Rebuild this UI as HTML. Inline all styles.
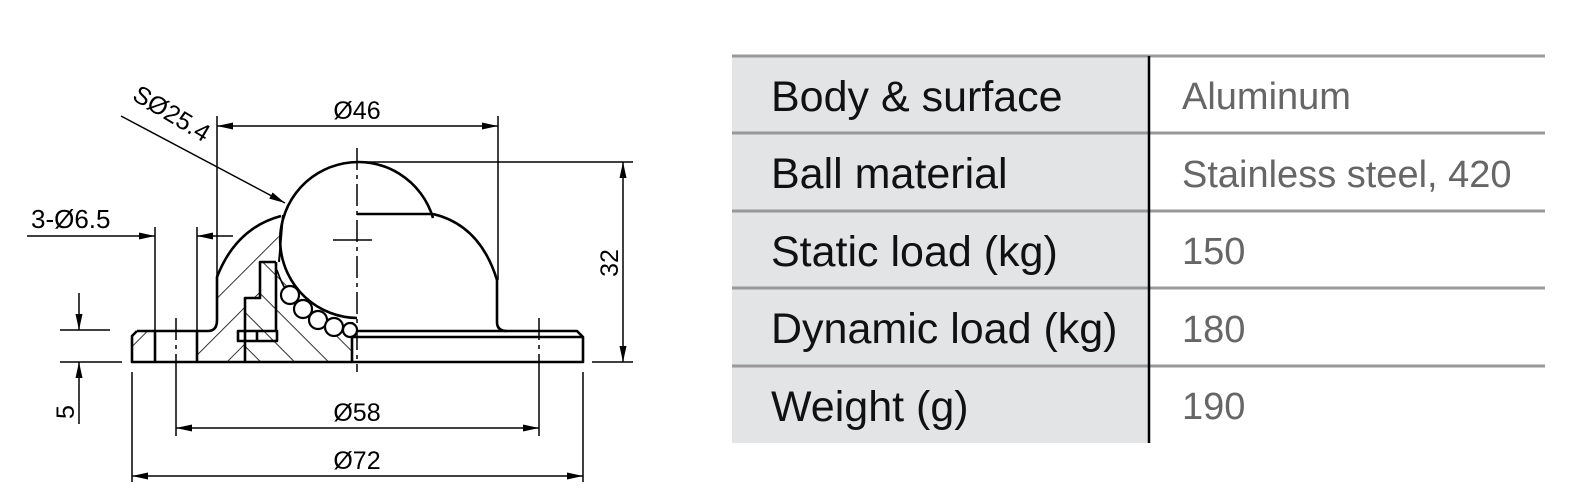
<!DOCTYPE html>
<html><head><meta charset="utf-8"><style>
html,body{margin:0;padding:0;background:#fff;width:1596px;height:502px;overflow:hidden}
svg{display:block}
</style></head><body>
<svg width="1596" height="502" viewBox="0 0 1596 502" xmlns="http://www.w3.org/2000/svg" font-family="Liberation Sans, Arial, sans-serif">
<defs>
<marker id="a" viewBox="0 0 16 8" refX="16" refY="4" markerWidth="16" markerHeight="8" markerUnits="userSpaceOnUse" orient="auto-start-reverse"><path d="M0,0.5 L16,4 L0,7.5 Z" fill="#000"/></marker>
<pattern id="h1" patternUnits="userSpaceOnUse" width="26" height="26" patternTransform="rotate(45)"><line x1="0" y1="0" x2="0" y2="26" stroke="#000" stroke-width="1.6"/></pattern>
<pattern id="h2" patternUnits="userSpaceOnUse" width="24" height="24" patternTransform="rotate(-45)"><line x1="0" y1="0" x2="0" y2="24" stroke="#000" stroke-width="1.6"/></pattern>
</defs>

<path d="M132,362 L132,336 L137,331 L155,331 L155,362 Z" fill="url(#h1)"/>
<path d="M197,362 L197,331 L208,331 Q217,331 217,320 L217,277 Q240,228 281,216 L276,262 L260,262 L260,298 L245,298 L245,362 Z" fill="url(#h1)"/>
<path d="M245,362 L245,298 L260,298 L260,262 L276,262 Q290,310 352,330 L352,362 Z" fill="url(#h2)"/>

<!-- ball (visible part only), drawn first -->
<path d="M433,218 A78,78 0 1 0 357,318" fill="#fff" stroke="#000" stroke-width="2.6"/>

<g fill="none" stroke="#000" stroke-width="2.6" stroke-linejoin="round">
<path d="M137,331 L208,331 Q217,331 217,320 L217,277 Q236,228 281,216"/>
<path d="M137,331 L132,336 L132,362 L583,362 L583,337 L577,331 L507,331 Q497,331 497,322 L497,280 Q480,225 433,214"/>
<line x1="357" y1="214" x2="433" y2="214"/>
<line x1="352" y1="337" x2="583" y2="337"/>
<line x1="357" y1="331" x2="507" y2="331"/>
<path d="M276,262 L260,262 L260,298 L245,298 L245,362"/>
<rect x="238" y="331" width="39" height="10"/>
<line x1="257" y1="331" x2="257" y2="341"/>
<line x1="276" y1="262" x2="276" y2="330"/>
<line x1="352" y1="322" x2="352" y2="362"/>
<line x1="155" y1="331" x2="155" y2="362"/>
<line x1="197" y1="331" x2="197" y2="362"/>
<path d="M283,215 L279,262" stroke-width="2"/>
</g>
<g fill="#fff" stroke="#000" stroke-width="2.2">
<path d="M277,270 Q295,325 352,330" fill="none" stroke-width="1.6"/>
<circle cx="290" cy="295" r="9"/>
<circle cx="303" cy="309" r="9"/>
<circle cx="318" cy="320" r="9"/>
<circle cx="334" cy="327" r="9"/>
<circle cx="350" cy="330" r="7"/>
</g>

<g fill="none" stroke="#000" stroke-width="1.5">
<line x1="357" y1="148" x2="357" y2="372" stroke-dasharray="22,5,4,5"/>
<line x1="176" y1="318" x2="176" y2="372" stroke-dasharray="22,5,4,5"/>
<line x1="539" y1="318" x2="539" y2="372" stroke-dasharray="22,5,4,5"/>
<line x1="333" y1="240" x2="372" y2="240"/>
<line x1="217" y1="116" x2="217" y2="277"/>
<line x1="498" y1="116" x2="498" y2="280"/>
<line x1="217" y1="126" x2="498" y2="126" marker-start="url(#a)" marker-end="url(#a)"/>
<line x1="121" y1="116" x2="285" y2="203" marker-end="url(#a)"/>
<line x1="155" y1="227" x2="155" y2="331"/>
<line x1="197" y1="227" x2="197" y2="331"/>
<line x1="27" y1="236" x2="155" y2="236" marker-end="url(#a)"/>
<line x1="233" y1="236" x2="197" y2="236" marker-end="url(#a)"/>
<line x1="176" y1="372" x2="176" y2="436"/>
<line x1="539" y1="372" x2="539" y2="436"/>
<line x1="176" y1="428" x2="539" y2="428" marker-start="url(#a)" marker-end="url(#a)"/>
<line x1="132" y1="372" x2="132" y2="482"/>
<line x1="583" y1="372" x2="583" y2="482"/>
<line x1="132" y1="476" x2="583" y2="476" marker-start="url(#a)" marker-end="url(#a)"/>
<line x1="358" y1="162" x2="633" y2="162"/>
<line x1="592" y1="362" x2="633" y2="362"/>
<line x1="623" y1="162" x2="623" y2="362" marker-start="url(#a)" marker-end="url(#a)"/>
<line x1="60" y1="330" x2="110" y2="330"/>
<line x1="60" y1="362" x2="122" y2="362"/>
<line x1="79" y1="293" x2="79" y2="330" marker-end="url(#a)"/>
<line x1="79" y1="424" x2="79" y2="362" marker-end="url(#a)"/>
</g>

<g font-size="25" fill="#000">
<text x="357" y="119" text-anchor="middle">Ø46</text>
<text x="357" y="421" text-anchor="middle">Ø58</text>
<text x="357" y="469" text-anchor="middle">Ø72</text>
<text x="31" y="228" font-size="26">3-Ø6.5</text>
<text transform="translate(131,99) rotate(31)">SØ25.4</text>
<text transform="translate(618,263) rotate(-90)" text-anchor="middle">32</text>
<text transform="translate(74,412) rotate(-90)" text-anchor="middle">5</text>
</g>

<rect x="732" y="56" width="417" height="387" fill="#e3e4e6"/>
<g stroke="#999" stroke-width="3">
<line x1="732" y1="56" x2="1545" y2="56"/>
<line x1="732" y1="133" x2="1545" y2="133"/>
<line x1="732" y1="211" x2="1545" y2="211"/>
<line x1="732" y1="288" x2="1545" y2="288"/>
<line x1="732" y1="366" x2="1545" y2="366"/>
</g>
<line x1="1149" y1="56" x2="1149" y2="443" stroke="#000" stroke-width="2.5"/>
<g font-size="43" fill="#111">
<text x="771" y="111">Body &amp; surface</text>
<text x="771" y="188">Ball material</text>
<text x="771" y="266">Static load (kg)</text>
<text x="771" y="343">Dynamic load (kg)</text>
<text x="771" y="421">Weight (g)</text>
</g>
<g font-size="38" fill="#666">
<text x="1182" y="109">Aluminum</text>
<text x="1182" y="187">Stainless steel, 420</text>
<text x="1182" y="264">150</text>
<text x="1182" y="342">180</text>
<text x="1182" y="419">190</text>
</g>
</svg>
</body></html>
